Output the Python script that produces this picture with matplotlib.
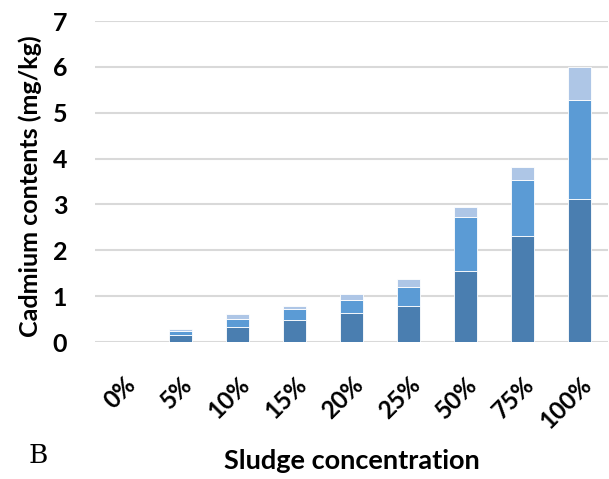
import matplotlib
matplotlib.use("Agg")
import matplotlib.pyplot as plt
import numpy as np

categories = ["0%", "5%", "10%", "15%", "20%", "25%", "50%", "75%", "100%"]
seg1 = [0.0, 0.15, 0.33, 0.47, 0.64, 0.78, 1.55, 2.31, 3.11]
seg2 = [0.0, 0.10, 0.17, 0.24, 0.28, 0.42, 1.18, 1.22, 2.17]
seg3 = [0.0, 0.03, 0.10, 0.07, 0.13, 0.17, 0.21, 0.28, 0.72]
yticks = [0, 1, 2, 3, 4, 5, 6, 7]

colors = ["#4A7EB0", "#5B9BD5", "#AEC6E6"]

fig = plt.figure(figsize=(6.09, 4.79), dpi=100)
ax = fig.add_axes([0.156, 0.286, 0.842, 0.670])

x = np.arange(len(categories))
w = 0.41
b1 = np.array(seg1)
b2 = b1 + np.array(seg2)
ax.bar(x, seg1, w, color=colors[0], edgecolor="white", linewidth=0.6, zorder=3)
ax.bar(x, seg2, w, bottom=b1, color=colors[1], edgecolor="white", linewidth=0.6, zorder=3)
ax.bar(x, seg3, w, bottom=b2, color=colors[2], edgecolor="white", linewidth=0.6, zorder=3)

ax.set_xlim(-0.5, len(categories) - 0.5)
ax.set_ylim(0, 7)
ax.yaxis.grid(True, color="#d9d9d9", linewidth=1.5, zorder=0)
ax.set_axisbelow(True)
for s in ["top", "right", "left", "bottom"]:
    ax.spines[s].set_visible(False)
ax.tick_params(axis="both", length=0)

font = "Lato"
ax.set_yticks(yticks)
ax.set_yticklabels([str(t) for t in yticks], fontsize=18, fontweight="bold", family=font)
ax.tick_params(axis="y", pad=20)
ax.set_xticks(x)
ax.set_xticklabels(categories, fontsize=17.5, fontweight="bold", family=font,
                   rotation=45, ha="right", va="top", rotation_mode="anchor")
ax.tick_params(axis="x", pad=22)

ax.set_ylabel("Cadmium contents (mg/kg)", fontsize=18, fontweight="bold", family=font)
ax.yaxis.set_label_coords(-0.104, 0.486)
fig.text(0.578, 0.037, "Sludge concentration", fontsize=19.5, fontweight="bold", family=font,
         ha="center", va="center")
fig.text(0.0624, 0.05, "B", fontsize=19, family="DejaVu Serif", ha="center", va="center")

fig.savefig("out.png", dpi=100)
